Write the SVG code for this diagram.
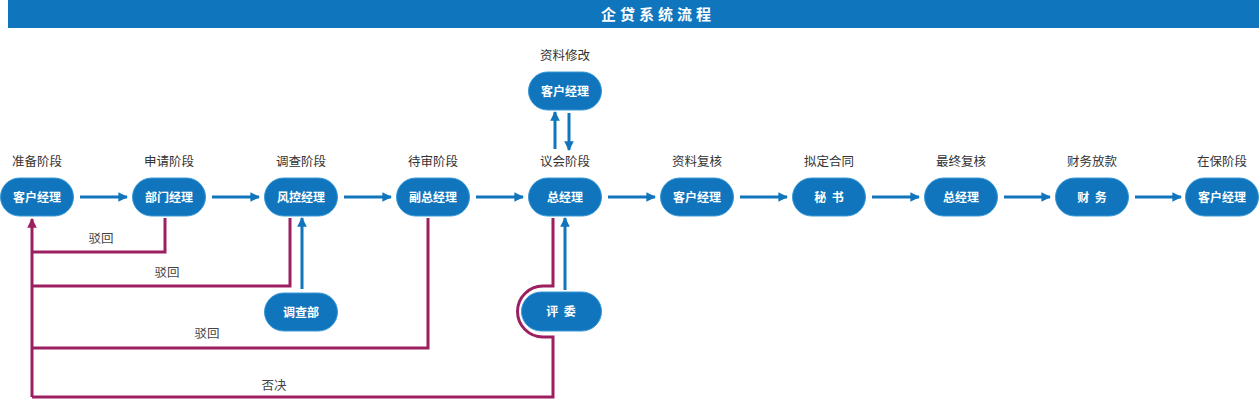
<svg xmlns="http://www.w3.org/2000/svg" width="1259" height="400" viewBox="0 0 1259 400">
<style>
.node rect{fill:#1075bc;stroke:#3b9ad8;stroke-width:1}
.node text{fill:#fff;font-family:"Noto Sans CJK SC","Noto Sans",sans-serif;font-weight:bold;font-size:12px;text-anchor:middle}
.stage{fill:#333;font-family:"Noto Sans CJK SC","Noto Sans",sans-serif;font-size:12.5px;text-anchor:middle}
.lbl{fill:#444;font-family:"Noto Sans CJK SC","Noto Sans",sans-serif;font-size:12.5px;text-anchor:middle}
.b{stroke:#1075bc;stroke-width:3;fill:none}
.m{stroke:#9c1f60;stroke-width:3;fill:none}
</style>
<defs>
<marker id="ab" viewBox="0 0 10 10" refX="9" refY="5" markerWidth="3.2" markerHeight="3.2" orient="auto" markerUnits="strokeWidth"><path d="M0,0 L10,5 L0,10 Z" fill="#1075bc"/></marker>
<marker id="am" viewBox="0 0 10 10" refX="9" refY="5" markerWidth="3.2" markerHeight="3.2" orient="auto" markerUnits="strokeWidth"><path d="M0,0 L10,5 L0,10 Z" fill="#9c1f60"/></marker>
</defs>
<rect x="8" y="0" width="1251" height="28" fill="#0f75bd"/>
<text x="658" y="20" fill="#fff" font-family="'Noto Sans CJK SC',sans-serif" font-weight="bold" font-size="15" letter-spacing="4" text-anchor="middle">企贷系统流程</text>
<g class="stages">
<text class="stage" x="37" y="166">准备阶段</text>
<text class="stage" x="169" y="166">申请阶段</text>
<text class="stage" x="301" y="166">调查阶段</text>
<text class="stage" x="433" y="166">待审阶段</text>
<text class="stage" x="565" y="166">议会阶段</text>
<text class="stage" x="697" y="166">资料复核</text>
<text class="stage" x="829" y="166">拟定合同</text>
<text class="stage" x="961" y="166">最终复核</text>
<text class="stage" x="1092" y="166">财务放款</text>
<text class="stage" x="1222" y="166">在保阶段</text>
<text class="stage" x="565" y="60">资料修改</text>
</g>
<g id="connectors">
<path class="b" d="M80,197 H127" marker-end="url(#ab)"/>
<path class="b" d="M212,197 H259" marker-end="url(#ab)"/>
<path class="b" d="M344,197 H391" marker-end="url(#ab)"/>
<path class="b" d="M476,197 H523" marker-end="url(#ab)"/>
<path class="b" d="M608,197 H655" marker-end="url(#ab)"/>
<path class="b" d="M740,197 H787" marker-end="url(#ab)"/>
<path class="b" d="M872,197 H919" marker-end="url(#ab)"/>
<path class="b" d="M1004,197 H1050" marker-end="url(#ab)"/>
<path class="b" d="M1135,197 H1181" marker-end="url(#ab)"/>
<path class="b" d="M555,149 V112" marker-end="url(#ab)"/>
<path class="b" d="M569,113 V150" marker-end="url(#ab)"/>
<path class="b" d="M302,289 V218" marker-end="url(#ab)"/>
<path class="b" d="M565,290 V218" marker-end="url(#ab)"/>
<path class="m" d="M165,218 V252 H32"/>
<path class="m" d="M290,218 V286 H32"/>
<path class="m" d="M428,218 V348 H32"/>
<path class="m" d="M553,218 V286 H543 A25.5,25.5 0 0 0 543,337 H553 V397 H32"/>
<path class="m" d="M32,397 V219" marker-end="url(#am)"/>
<text class="lbl" x="101" y="243">驳回</text>
<text class="lbl" x="167" y="277">驳回</text>
<text class="lbl" x="207" y="338">驳回</text>
<text class="lbl" x="274" y="390">否决</text>
</g>
<g id="n1" class="node"><rect x="0.5" y="178" width="73" height="38" rx="19"/><text x="37" y="201.5">客户经理</text></g>
<g id="n2" class="node"><rect x="132.5" y="178" width="73" height="38" rx="19"/><text x="169" y="201.5">部门经理</text></g>
<g id="n3" class="node"><rect x="264.5" y="178" width="73" height="38" rx="19"/><text x="301" y="201.5">风控经理</text></g>
<g id="n4" class="node"><rect x="396.5" y="178" width="73" height="38" rx="19"/><text x="433" y="201.5">副总经理</text></g>
<g id="n5" class="node"><rect x="528.5" y="178" width="73" height="38" rx="19"/><text x="565" y="201.5">总经理</text></g>
<g id="n6" class="node"><rect x="660.5" y="178" width="73" height="38" rx="19"/><text x="697" y="201.5">客户经理</text></g>
<g id="n7" class="node"><rect x="792.5" y="178" width="73" height="38" rx="19"/><text x="829" y="201.5" xml:space="preserve">秘  书</text></g>
<g id="n8" class="node"><rect x="924.5" y="178" width="73" height="38" rx="19"/><text x="961" y="201.5">总经理</text></g>
<g id="n9" class="node"><rect x="1055.5" y="178" width="73" height="38" rx="19"/><text x="1092" y="201.5" xml:space="preserve">财  务</text></g>
<g id="n10" class="node"><rect x="1185.5" y="178" width="73" height="38" rx="19"/><text x="1222" y="201.5">客户经理</text></g>
<g id="n11" class="node"><rect x="528.5" y="72" width="73" height="38" rx="19"/><text x="565" y="95.5">客户经理</text></g>
<g id="n12" class="node"><rect x="264.5" y="293" width="73" height="38" rx="19"/><text x="301" y="316.5">调查部</text></g>
<g id="n13" class="node"><rect x="521.5" y="292" width="80" height="39" rx="19.5"/><text x="561" y="316" xml:space="preserve">评  委</text></g>
</svg>
